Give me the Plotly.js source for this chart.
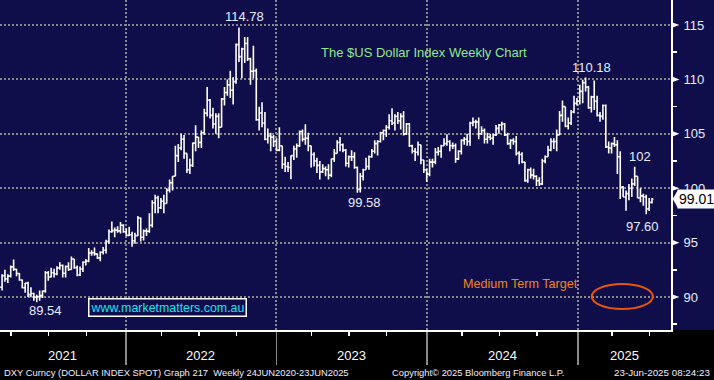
<!DOCTYPE html>
<html><head><meta charset="utf-8">
<script src="https://cdn.plot.ly/plotly-3.0.1.min.js"></script>
<style>html,body{margin:0;padding:0;background:#000;}#chart{width:714px;height:380px;}</style>
</head><body><div id="chart"></div>
<script>
// ---- data (weekly DXY bars, first week ends 2021-02-28) ----
const firstWeekEnd = '2021-02-28';
const opens = [
90.0,90.9,91.97,91.67,91.92,92.77,92.56,92.16,91.56,90.86,91.28,90.22,90.32,89.99,90.03,90.13,90.55,92.23,91.84,92.23,92.12,92.68,92.9,92.18,92.8,92.53,93.5,92.7,92.03,92.58,93.2,93.3,94.05,94.07,93.97,93.6,94.12,94.3,95.1,96.0,96.1,96.15,96.08,96.6,96.0,
95.67,95.73,95.17,95.64,97.27,95.49,96.07,96.04,96.6,98.66,99.13,98.2,98.8,98.6,99.83,100.5,101.1,103.0,103.7,104.5,103.2,101.7,102.1,104.15,104.7,104.2,105.1,106.9,108.1,106.7,105.9,106.6,105.6,108.2,108.8,109.5,109.0,109.8,113.2,112.1,112.8,113.3,111.9,110.75,110.8,106.3,106.9,106.0,104.5,104.8,104.7,104.3,
103.5,103.9,102.2,102.0,101.9,103.0,103.6,103.9,105.2,104.5,104.6,103.9,103.1,102.5,102.1,101.5,101.8,101.7,101.2,102.7,103.2,104.2,104.0,103.5,102.3,102.9,102.9,101.9,99.9,101.1,101.7,102.0,102.9,103.4,104.1,104.3,105.1,105.3,105.6,106.2,106.0,106.6,106.2,106.6,105.0,105.9,103.9,103.4,103.3,104.0,102.6,101.7,
101.3,102.4,102.4,103.3,103.4,103.9,104.1,104.3,103.9,103.9,102.7,103.4,104.4,104.5,104.3,106.0,106.1,106.1,105.0,105.3,104.5,104.7,104.6,104.9,105.5,105.8,105.9,104.9,104.1,104.4,104.3,103.2,103.1,102.4,100.7,101.7,101.2,101.1,100.7,100.4,102.5,102.9,103.5,104.3,104.3,104.9,106.7,107.5,105.7,106.0,107.0,107.8,
108.0,108.9,109.7,109.3,107.4,108.4,108.0,106.7,106.6,107.6,103.8,103.7,104.1,104.0,102.9,100.1,99.2,99.5,100.0,100.4,101.1,99.1,99.3,99.2,98.1,98.7];
const highs = [
90.9,92.1,92.5,92.1,92.9,93.44,92.6,92.2,91.6,91.3,91.4,90.9,90.4,90.2,90.6,90.6,92.4,92.4,92.7,92.6,92.83,93.2,93.0,92.9,93.2,93.73,93.5,92.9,92.8,93.3,93.5,94.5,94.3,94.56,94.0,94.2,94.6,95.26,96.2,96.94,96.4,96.5,96.9,96.7,96.3,
96.46,96.0,95.9,97.44,97.3,96.2,96.3,97.7,98.9,99.4,99.3,99.1,99.4,100.0,100.8,101.1,103.9,104.07,105.0,104.9,103.2,102.7,104.2,105.79,104.7,105.3,107.3,109.3,108.2,107.4,106.9,106.9,108.3,109.3,110.0,110.79,110.2,113.3,114.78,112.9,113.9,113.9,112.0,113.1,111.0,107.5,107.9,107.0,105.5,105.1,104.9,104.6,
105.6,103.9,102.9,102.4,103.0,103.9,104.1,105.3,105.4,105.88,105.1,103.9,103.3,102.8,102.5,102.2,102.0,102.2,102.7,103.6,104.4,104.7,104.1,103.6,103.0,103.5,103.3,102.0,101.4,101.8,102.8,103.0,103.6,104.4,104.4,105.2,105.4,105.8,106.8,107.35,106.8,107.0,106.9,107.1,106.0,106.0,104.0,103.7,104.3,104.0,102.6,101.8,
102.7,102.7,103.7,103.8,104.0,104.6,104.97,104.4,104.2,104.1,103.5,104.5,104.7,105.0,106.1,106.5,106.3,106.5,105.7,105.5,105.1,105.0,105.0,105.8,105.9,106.1,106.0,105.1,104.5,104.6,104.8,103.4,103.3,102.4,101.8,101.9,101.8,101.2,101.0,102.7,103.0,103.9,104.6,104.6,105.4,107.1,108.07,107.5,106.5,107.2,108.5,108.3,
109.5,109.97,110.18,109.4,108.5,109.9,108.5,107.0,107.7,107.7,104.3,104.2,104.7,104.4,103.4,100.2,99.8,100.4,100.9,101.98,101.1,100.0,99.5,99.4,99.1,99.1];
const lows = [
89.7,90.6,91.4,91.3,91.8,92.4,91.9,91.5,90.8,90.4,90.0,89.98,89.65,89.53,89.66,89.9,90.4,91.5,91.8,91.8,92.0,92.5,91.8,91.8,92.4,92.5,92.6,91.9,91.94,92.3,92.9,93.2,93.8,93.8,93.5,93.3,93.9,94.0,94.9,95.9,95.5,95.9,95.85,95.9,95.6,
95.6,94.63,94.9,95.6,95.1,95.2,95.6,95.9,96.4,97.7,97.7,98.1,97.7,98.6,99.6,99.8,101.1,102.4,103.5,102.7,101.4,101.3,101.96,103.4,103.7,103.7,104.9,106.6,106.4,105.5,105.0,104.6,105.6,107.6,108.5,108.3,107.7,109.6,111.6,110.1,111.5,111.7,109.5,110.1,106.2,105.3,105.6,104.4,104.1,103.4,103.8,103.4,
103.4,101.8,101.5,101.5,100.82,102.6,102.8,103.8,104.3,104.0,103.4,101.9,102.0,101.4,100.8,101.4,101.1,100.8,101.0,102.4,103.2,103.4,103.3,102.0,101.9,102.5,101.8,99.58,99.6,100.7,101.7,101.7,102.8,103.2,103.0,104.2,104.4,104.7,105.4,105.8,105.3,105.9,105.4,104.84,104.9,103.8,103.2,102.5,103.0,102.2,101.4,100.6,
101.1,101.9,102.2,103.0,102.8,103.9,103.9,103.4,103.6,102.35,102.6,103.1,104.0,103.9,103.9,105.7,105.5,104.5,104.9,104.1,104.1,104.4,103.99,104.8,105.0,105.3,104.8,104.0,103.6,104.0,103.0,102.2,102.3,100.6,100.5,100.9,100.8,100.2,100.2,100.3,102.3,102.9,103.4,103.6,103.4,104.9,106.1,105.6,105.4,105.8,106.9,107.6,
107.7,107.8,108.9,107.3,106.97,107.2,106.6,106.1,106.3,103.7,103.2,103.2,103.8,101.3,99.0,99.2,97.92,98.9,99.2,100.2,99.1,98.7,98.4,97.6,97.9,98.6];
const closes = [
90.9,91.97,91.67,91.92,92.77,92.56,92.16,91.56,90.86,91.28,90.22,90.32,89.99,90.03,90.13,90.55,92.23,91.84,92.23,92.12,92.68,92.9,92.18,92.8,92.53,93.5,92.7,92.03,92.58,93.2,93.3,94.05,94.07,93.97,93.6,94.12,94.3,95.1,96.0,96.1,96.15,96.08,96.6,96.0,95.67,
95.73,95.17,95.64,97.27,95.49,96.07,96.04,96.6,98.66,99.13,98.2,98.8,98.6,99.83,100.5,101.1,103.0,103.7,104.5,103.2,101.7,102.1,104.15,104.7,104.2,105.1,106.9,108.1,106.7,105.9,106.6,105.6,108.2,108.8,109.5,109.0,109.8,113.2,112.1,112.8,113.3,111.9,110.75,110.8,106.3,106.9,106.0,104.5,104.8,104.7,104.3,103.5,
103.9,102.2,102.0,101.9,103.0,103.6,103.9,105.2,104.5,104.6,103.9,103.1,102.5,102.1,101.5,101.8,101.7,101.2,102.7,103.2,104.2,104.0,103.5,102.3,102.9,102.9,101.9,99.9,101.1,101.7,102.0,102.9,103.4,104.1,104.3,105.1,105.3,105.6,106.2,106.0,106.6,106.2,106.6,105.0,105.9,103.9,103.4,103.3,104.0,102.6,101.7,101.3,
102.4,102.4,103.3,103.4,103.9,104.1,104.3,103.9,103.9,102.7,103.4,104.4,104.5,104.3,106.0,106.1,106.1,105.0,105.3,104.5,104.7,104.6,104.9,105.5,105.8,105.9,104.9,104.1,104.4,104.3,103.2,103.1,102.4,100.7,101.7,101.2,101.1,100.7,100.4,102.5,102.9,103.5,104.3,104.3,104.9,106.7,107.5,105.7,106.0,107.0,107.8,108.0,
108.9,109.7,109.3,107.4,108.4,108.0,106.7,106.6,107.6,103.8,103.7,104.1,104.0,102.9,100.1,99.2,99.5,100.0,100.4,101.1,99.1,99.3,99.2,98.1,98.7,99.01];

const yTicks = [90, 95, 100, 105, 110, 115];
const yMinorTicks = [87.5, 92.5, 97.5, 102.5, 107.5, 112.5];
const yearBoundaries = ['2022-01-01', '2023-01-01', '2024-01-01', '2025-01-01'];
const quarterTicks = ['2021-03-29','2021-06-28','2021-09-27','2022-03-28','2022-06-27','2022-09-26','2023-03-27','2023-06-26','2023-09-25','2024-03-25','2024-06-24','2024-09-23','2025-03-24','2025-06-23'];
const yearLabels = ['2021', '2022', '2023', '2024', '2025'];
const yearLabelDates = ['2021-08-01', '2022-07-02', '2023-07-02', '2024-07-02', '2025-04-23'];
const lastPrice = 99.01;
const chartTitle = 'The $US Dollar Index Weekly Chart';
const targetText = 'Medium Term Target';
const siteText = 'www.marketmatters.com.au';
const footerLeft = 'DXY Curncy (DOLLAR INDEX SPOT) Graph 217  Weekly 24JUN2020-23JUN2025';
const footerMid = 'Copyright\u00A9 2025 Bloomberg Finance L.P.';
const footerRight = '23-Jun-2025 08:24:23';

// ---- build ----
const dates = [];
const t0 = Date.parse(firstWeekEnd + 'T00:00:00Z');
for (let i = 0; i < closes.length; i++) {
  dates.push(new Date(t0 + i * 7 * 86400000).toISOString().slice(0, 10));
}

const FONT = '"Liberation Sans", Arial, sans-serif';
const NAVY = '#100e4a';
const GRID = '#8a8a8a';
const LABEL = '#e6ecff';

const trace = {
  type: 'ohlc', x: dates, open: opens, high: highs, low: lows, close: closes,
  increasing: {line: {color: '#ffffff', width: 1.6}},
  decreasing: {line: {color: '#ffffff', width: 1.6}},
  tickwidth: 0.5, hoverinfo: 'skip', showlegend: false
};

const shapes = [
  {type: 'rect', xref: 'paper', yref: 'paper', x0: -0.05, x1: 1.1, y0: -0.25, y1: 0,
   fillcolor: '#000000', line: {width: 0}, layer: 'below'}
];
yTicks.forEach(v => {
  shapes.push({type: 'path', xref: 'paper', yref: 'y',
    path: `M 1.0015,${v + 0.26} L 1.0125,${v} L 1.0015,${v - 0.26} Z`,
    fillcolor: '#ffffff', line: {width: 0}});
});
// target ellipse
shapes.push({type: 'circle', xref: 'x', yref: 'y', x0: '2025-02-03', x1: '2025-07-01',
  y0: 88.9, y1: 91.2, line: {color: '#e8560e', width: 2}});
// last price tag tip
shapes.push({type: 'path', xref: 'paper', yref: 'y',
  path: `M 1.0025,${lastPrice} L 1.0105,${lastPrice + 0.85} L 1.0105,${lastPrice - 0.85} Z`,
  fillcolor: '#ffffff', line: {width: 0}});

function lab(text, x, y, size, color) {
  return {text: text, x: x, y: y, xref: 'x', yref: 'y', showarrow: false,
    xanchor: 'center', yanchor: 'middle', font: {family: FONT, size: size, color: color}};
}
const annotations = [
  lab('114.78', '2022-10-16', 115.74, 13, LABEL),
  lab('110.18', '2025-02-03', 111.14, 13, LABEL),
  lab('102', '2025-06-01', 102.96, 13, LABEL),
  lab('99.58', '2023-08-03', 98.73, 13, LABEL),
  lab('97.60', '2025-06-06', 96.44, 13, LABEL),
  lab('89.54', '2021-06-21', 88.72, 13, LABEL),
  lab(chartTitle, '2023-12-24', 112.43, 13, '#8fe88f'),
  lab(targetText, '2024-08-15', 91.2, 12.6, '#f0841c'),
  Object.assign(lab(siteText, '2022-04-11', 89.08, 12.4, '#19e3f5'),
    {bordercolor: '#ffffff', borderwidth: 1.5, borderpad: 1, bgcolor: NAVY}),
  {text: lastPrice.toFixed(2), xref: 'paper', yref: 'y', x: 1.0095, y: lastPrice,
   xanchor: 'left', yanchor: 'middle', showarrow: false, bgcolor: '#ffffff', borderpad: 1,
   font: {family: FONT, size: 14, color: '#000000'}},
  {text: footerLeft, xref: 'paper', yref: 'paper', x: 0.003, y: -0.1303, xanchor: 'left', yanchor: 'middle',
   showarrow: false, font: {family: FONT, size: 9.4, color: '#eeeeff'}},
  {text: footerMid, xref: 'paper', yref: 'paper', x: 0.5812, y: -0.1303, xanchor: 'left', yanchor: 'middle',
   showarrow: false, font: {family: FONT, size: 9.4, color: '#eeeeff'}},
  {text: footerRight, xref: 'paper', yref: 'paper', x: 1.0611, y: -0.1303, xanchor: 'right', yanchor: 'middle',
   showarrow: false, font: {family: FONT, size: 9.8, color: '#eeeeff'}}
];
yearLabels.forEach((t, i) => {
  annotations.push({text: t, xref: 'x', yref: 'paper', x: yearLabelDates[i], y: -0.0758,
    xanchor: 'center', yanchor: 'middle', showarrow: false,
    font: {family: FONT, size: 13, color: '#ffffff'}});
});

const layout = {
  width: 714, height: 380,
  margin: {l: 0, r: 43, t: 0, b: 50, pad: 0},
  paper_bgcolor: NAVY, plot_bgcolor: NAVY,
  showlegend: false, dragmode: false,
  xaxis: {
    type: 'date', range: ['2021-03-02', '2025-08-14'],
    tickmode: 'array', tickvals: yearBoundaries, showticklabels: false,
    ticks: 'outside', ticklen: 33, tickwidth: 1.5, tickcolor: GRID,
    showgrid: true, gridcolor: GRID, gridwidth: 2, griddash: '2px,2px',
    showline: true, linecolor: '#ffffff', linewidth: 2, zeroline: false,
    rangeslider: {visible: false}, fixedrange: true,
    minor: {tickmode: 'array', tickvals: quarterTicks, ticks: 'outside', ticklen: 4, tickwidth: 1.5,
            tickcolor: '#ffffff', showgrid: false}
  },
  yaxis: {
    side: 'right', range: [86.97, 117.3],
    tickmode: 'array', tickvals: yTicks, ticktext: yTicks.map(String),
    ticks: 'outside', ticklen: 8, tickcolor: 'rgba(0,0,0,0)',
    tickfont: {family: FONT, size: 13, color: LABEL},
    showgrid: true, gridcolor: GRID, gridwidth: 2, griddash: '2px,2px',
    showline: true, linecolor: '#ffffff', linewidth: 2, zeroline: false, fixedrange: true,
    minor: {tickmode: 'array', tickvals: yMinorTicks, ticks: 'outside', ticklen: 4, tickwidth: 1.5,
            tickcolor: '#ffffff', showgrid: false}
  },
  shapes: shapes,
  annotations: annotations
};

Plotly.newPlot('chart', [trace], layout, {displayModeBar: false, staticPlot: true});
</script>
</body></html>
